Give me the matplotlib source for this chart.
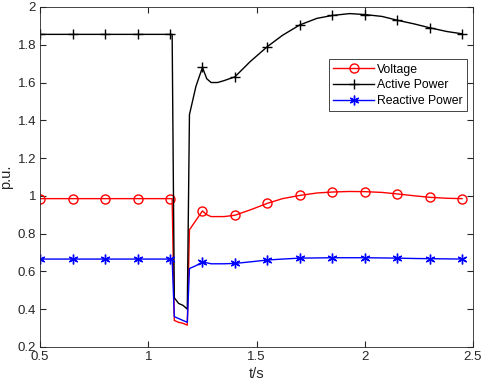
import numpy as np
import matplotlib
matplotlib.use("Agg")
import matplotlib.pyplot as plt

plt.rcParams["font.family"] = ["Liberation Sans", "DejaVu Sans"]
plt.rcParams["font.size"] = 9

# time (s) and per-unit values
t = [0.5, 0.65, 0.8, 0.95, 1.1, 1.11, 1.12, 1.14, 1.16, 1.18, 1.19, 1.22, 1.25,
     1.27, 1.29, 1.32, 1.35, 1.4, 1.47, 1.55, 1.62, 1.7, 1.78, 1.85, 1.93, 2.0,
     2.08, 2.15, 2.23, 2.3, 2.38, 2.45]
voltage = [0.985, 0.985, 0.985, 0.985, 0.985, 0.985, 0.34, 0.33, 0.325, 0.315,
           0.82, 0.87, 0.92, 0.90, 0.89, 0.89, 0.89, 0.897, 0.925, 0.96, 0.985,
           1.002, 1.015, 1.02, 1.023, 1.022, 1.018, 1.01, 1.0, 0.992, 0.987, 0.985]
active = [1.855, 1.855, 1.855, 1.855, 1.855, 1.855, 0.46, 0.43, 0.42, 0.40,
          1.43, 1.58, 1.68, 1.62, 1.60, 1.60, 1.61, 1.63, 1.71, 1.79, 1.85,
          1.905, 1.94, 1.955, 1.965, 1.96, 1.95, 1.93, 1.91, 1.89, 1.87, 1.858]
reactive = [0.665, 0.665, 0.665, 0.665, 0.665, 0.665, 0.36, 0.35, 0.34, 0.33,
            0.615, 0.63, 0.65, 0.645, 0.64, 0.64, 0.64, 0.642, 0.65, 0.66, 0.665,
            0.67, 0.671, 0.672, 0.672, 0.672, 0.671, 0.67, 0.668, 0.667, 0.666, 0.665]
marker_times = [0.5, 0.65, 0.8, 0.95, 1.1, 1.25, 1.4, 1.55, 1.7, 1.85, 2.0,
                2.15, 2.3, 2.45]

t = np.array(t)
mk = [int(np.argmin(np.abs(t - m))) for m in marker_times]

fig = plt.figure(figsize=(4.84, 3.88), dpi=100)
ax = fig.add_axes([0.083, 0.106, 0.894, 0.876])

ax.plot(t, voltage, color="red", lw=1.0, marker="o", ms=6.5, mfc="none",
        markevery=mk, label="Voltage")
ax.plot(t, active, color="black", lw=1.0, marker="+", ms=7,
        markevery=mk, label="Active Power")
ax.plot(t, reactive, color="blue", lw=1.0, marker=(6, 2, 0), ms=7,
        markevery=mk, label="Reactive Power")

ax.set_xlim(0.5, 2.5)
ax.set_ylim(0.2, 2.0)
ax.set_xticks([0.5, 1, 1.5, 2, 2.5])
ax.set_xticklabels(["0.5", "1", "1.5", "2", "2.5"])
ax.set_yticks(np.arange(0.2, 2.01, 0.2))
ax.set_yticklabels(["0.2", "0.4", "0.6", "0.8", "1", "1.2", "1.4", "1.6", "1.8", "2"])
ax.tick_params(direction="in", top=True, right=True, length=4, colors="#262626",
               labelcolor="#262626", labelsize=9.5, pad=3)
for s in ax.spines.values():
    s.set_color("#262626")
    s.set_linewidth(0.6)
ax.set_xlabel("t/s", fontsize=10.5, color="#262626", labelpad=3)
ax.set_ylabel("p.u.", fontsize=10.5, color="#262626", labelpad=3)

leg = ax.legend(loc="upper right", bbox_to_anchor=(0.987, 0.846), fontsize=8.8,
                fancybox=False, edgecolor="#262626", framealpha=1,
                handlelength=3.3, borderpad=0.35, labelspacing=0.3,
                handletextpad=0.3, borderaxespad=0)
leg.get_frame().set_linewidth(0.6)

fig.savefig("out.png", dpi=100)
